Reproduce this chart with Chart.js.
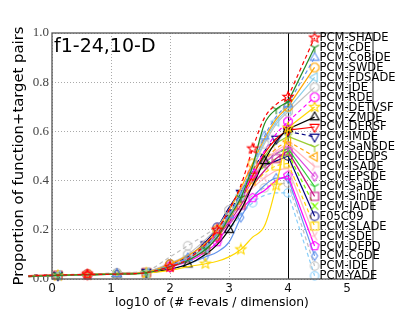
<!DOCTYPE html>
<html>
<head>
<meta charset="utf-8">
<script src="https://cdn.jsdelivr.net/npm/chart.js@4/dist/chart.umd.min.js"></script>
<style>
  html, body { margin: 0; padding: 0; background: #fff; }
</style>
</head>
<body>
<canvas id="chart" width="415" height="312"></canvas>
<script>
// log10(#f-evals / dim) where the ECDF curves are sampled
const xs = [-0.88, -0.4, 0.1, 0.6, 1.1, 1.6, 2.0, 2.3, 2.6, 2.8, 3.0, 3.2, 3.4, 3.6, 3.8, 4.0];

// proportion of function+target pairs, one array per algorithm
const shade  = [0.008, 0.012, 0.016, 0.018, 0.020, 0.026, 0.050, 0.080, 0.140, 0.200, 0.280, 0.380, 0.530, 0.655, 0.710, 0.740];
const cde    = [0.008, 0.011, 0.015, 0.018, 0.020, 0.025, 0.050, 0.075, 0.120, 0.170, 0.250, 0.330, 0.460, 0.630, 0.690, 0.720];
const cobide = [0.008, 0.011, 0.015, 0.018, 0.021, 0.027, 0.055, 0.085, 0.135, 0.185, 0.260, 0.350, 0.460, 0.580, 0.660, 0.710];
const swde   = [0.008, 0.012, 0.016, 0.019, 0.022, 0.028, 0.060, 0.095, 0.145, 0.200, 0.280, 0.370, 0.470, 0.570, 0.650, 0.700];
const fdsade = [0.008, 0.011, 0.015, 0.018, 0.021, 0.026, 0.050, 0.080, 0.125, 0.175, 0.250, 0.340, 0.450, 0.560, 0.640, 0.690];
const jde    = [0.008, 0.012, 0.016, 0.019, 0.023, 0.030, 0.065, 0.100, 0.160, 0.210, 0.280, 0.360, 0.450, 0.550, 0.630, 0.680];
const rde    = [0.008, 0.011, 0.015, 0.018, 0.021, 0.026, 0.050, 0.080, 0.120, 0.170, 0.250, 0.330, 0.430, 0.520, 0.590, 0.640];
const detvsf = [0.008, 0.010, 0.014, 0.017, 0.020, 0.024, 0.035, 0.050, 0.062, 0.072, 0.090, 0.120, 0.170, 0.215, 0.380, 0.615];
const zmde   = [0.008, 0.010, 0.014, 0.017, 0.020, 0.025, 0.040, 0.060, 0.100, 0.140, 0.200, 0.280, 0.380, 0.480, 0.560, 0.610];
const dersf  = [0.008, 0.014, 0.016, 0.018, 0.021, 0.026, 0.050, 0.080, 0.120, 0.170, 0.250, 0.330, 0.420, 0.510, 0.570, 0.605];
const imde   = [0.008, 0.011, 0.015, 0.018, 0.022, 0.028, 0.060, 0.090, 0.140, 0.200, 0.270, 0.350, 0.440, 0.520, 0.570, 0.600];
const sansde = [0.008, 0.011, 0.015, 0.018, 0.021, 0.026, 0.050, 0.080, 0.130, 0.180, 0.260, 0.340, 0.420, 0.500, 0.550, 0.580];
const dedps  = [0.008, 0.011, 0.015, 0.018, 0.021, 0.026, 0.050, 0.080, 0.120, 0.170, 0.240, 0.320, 0.400, 0.480, 0.530, 0.560];
const isade  = [0.008, 0.012, 0.016, 0.019, 0.022, 0.028, 0.060, 0.090, 0.140, 0.190, 0.260, 0.330, 0.410, 0.480, 0.520, 0.550];
const epsde  = [0.008, 0.011, 0.015, 0.018, 0.021, 0.026, 0.050, 0.080, 0.120, 0.170, 0.240, 0.320, 0.400, 0.470, 0.510, 0.540];
const sade   = [0.008, 0.011, 0.015, 0.018, 0.021, 0.026, 0.050, 0.080, 0.130, 0.180, 0.250, 0.330, 0.410, 0.470, 0.510, 0.530];
const sinde  = [0.008, 0.011, 0.015, 0.018, 0.021, 0.026, 0.050, 0.080, 0.120, 0.170, 0.230, 0.300, 0.380, 0.440, 0.490, 0.520];
const jade   = [0.008, 0.011, 0.015, 0.018, 0.021, 0.026, 0.050, 0.080, 0.130, 0.180, 0.250, 0.330, 0.400, 0.460, 0.490, 0.510];
const f05c09 = [0.008, 0.012, 0.016, 0.019, 0.022, 0.028, 0.060, 0.090, 0.150, 0.210, 0.290, 0.360, 0.420, 0.460, 0.480, 0.500];
const slade  = [0.008, 0.011, 0.015, 0.018, 0.021, 0.026, 0.050, 0.080, 0.120, 0.170, 0.240, 0.310, 0.380, 0.430, 0.460, 0.470];
const sde    = [0.008, 0.012, 0.016, 0.019, 0.022, 0.028, 0.060, 0.090, 0.140, 0.190, 0.260, 0.320, 0.370, 0.410, 0.440, 0.450];
const depd   = [0.008, 0.011, 0.015, 0.018, 0.021, 0.025, 0.050, 0.070, 0.110, 0.150, 0.220, 0.280, 0.330, 0.360, 0.400, 0.420];
const code   = [0.008, 0.010, 0.014, 0.017, 0.020, 0.024, 0.040, 0.060, 0.090, 0.110, 0.150, 0.250, 0.330, 0.380, 0.410, 0.410];
const ide    = [0.008, 0.012, 0.017, 0.020, 0.025, 0.034, 0.090, 0.135, 0.180, 0.210, 0.250, 0.300, 0.340, 0.370, 0.385, 0.390];
const yade   = [0.008, 0.011, 0.015, 0.018, 0.021, 0.026, 0.050, 0.080, 0.120, 0.170, 0.200, 0.260, 0.310, 0.340, 0.350, 0.350];

const labels = ['PCM-SHADE', 'PCM-cDE', 'PCM-CoBiDE', 'PCM-SWDE', 'PCM-FDSADE', 'PCM-jDE', 'PCM-RDE',
  'PCM-DETVSF', 'PCM-ZMDE', 'PCM-DERSF', 'PCM-IMDE', 'PCM-SaNSDE', 'PCM-DEDPS', 'PCM-ISADE', 'PCM-EPSDE',
  'PCM-SaDE', 'PCM-SinDE', 'PCM-JADE', 'F05C09', 'PCM-SLADE', 'PCM-SDE', 'PCM-DEPD', 'PCM-CoDE', 'PCM-IDE', 'PCM-YADE'];
const curves = [shade, cde, cobide, swde, fdsade, jde, rde, detvsf, zmde, dersf, imde, sansde, dedps, isade,
  epsde, sade, sinde, jade, f05c09, slade, sde, depd, code, ide, yade];

// where each line meets its legend entry (x and y in data units)
const legendX = 4.45;
const legendY = [0.981, 0.941, 0.900, 0.860, 0.820, 0.779, 0.739, 0.699, 0.658, 0.618, 0.578, 0.537, 0.497,
  0.457, 0.416, 0.376, 0.336, 0.296, 0.255, 0.215, 0.174, 0.134, 0.094, 0.053, 0.013];

const xTicks = [0, 1, 2, 3, 4, 5];
const yTicks = [0, 0.2, 0.4, 0.6, 0.8, 1.0];

// colour, marker, dashed
const looks = [
  ['#ff0000', 'star', true], ['#228b22', 'triY', false], ['#6495ed', 'triUp', true], ['#ffa500', 'octagon', false],
  ['#87ceeb', 'triLeft', false], ['#c0c0c0', 'octagon', false], ['#ff00ff', 'octagon', true], ['#ffd700', 'star', false],
  ['#000000', 'triUp', false], ['#ff0000', 'triDown', false], ['#000080', 'triDown', true], ['#9acd32', 'triY', false],
  ['#ffa500', 'triLeft', true], ['#ffb6c1', 'tri4', false], ['#dd44dd', 'thinDiamond', false], ['#32cd32', 'triY', false],
  ['#c71585', 'square', false], ['#7cfc00', 'cross', true], ['#000080', 'circle', false], ['#ffd700', 'square', true],
  ['#ffb6c1', 'tri3', false], ['#ff00ff', 'pentagon', false], ['#6495ed', 'thinDiamond', false], ['#c0c0c0', 'circle', true],
  ['#87cefa', 'circle', true]
];

function polygon(g, n, r, start) {
  for (let k = 0; k < n; k++) {
    const a = start + k * 2 * Math.PI / n;
    const px = r * Math.cos(a), py = r * Math.sin(a);
    if (k === 0) g.moveTo(px, py); else g.lineTo(px, py);
  }
  g.closePath();
}

function spokes(g, r, angles) {
  angles.forEach(a => {
    const rad = a * Math.PI / 180;
    g.moveTo(0, 0);
    g.lineTo(r * Math.cos(rad), r * Math.sin(rad));
  });
}

// hollow matplotlib-like markers
function makeMarker(shape, color) {
  const s = 14;
  const c = document.createElement('canvas');
  c.width = s; c.height = s;
  const g = c.getContext('2d');
  g.translate(s / 2, s / 2);
  g.strokeStyle = color;
  g.lineWidth = 1.1;
  g.beginPath();
  const r = 4.6;
  if (shape === 'star') {
    for (let k = 0; k < 10; k++) {
      const a = -Math.PI / 2 + k * Math.PI / 5;
      const rr = k % 2 === 0 ? 5.4 : 2.3;
      if (k === 0) g.moveTo(rr * Math.cos(a), rr * Math.sin(a)); else g.lineTo(rr * Math.cos(a), rr * Math.sin(a));
    }
    g.closePath();
  } else if (shape === 'triUp') polygon(g, 3, 5.2, -Math.PI / 2);
  else if (shape === 'triDown') polygon(g, 3, 5.2, Math.PI / 2);
  else if (shape === 'triLeft') polygon(g, 3, 5.2, Math.PI);
  else if (shape === 'octagon') polygon(g, 8, r, Math.PI / 8);
  else if (shape === 'pentagon') polygon(g, 5, r, -Math.PI / 2);
  else if (shape === 'circle') g.arc(0, 0, 4.2, 0, 2 * Math.PI);
  else if (shape === 'square') g.rect(-4, -4, 8, 8);
  else if (shape === 'thinDiamond') {
    g.moveTo(0, -r); g.lineTo(3, 0); g.lineTo(0, r); g.lineTo(-3, 0); g.closePath();
  } else if (shape === 'triY') spokes(g, 5, [90, 210, 330]);
  else if (shape === 'tri3') spokes(g, 5, [180, 60, 300]);
  else if (shape === 'tri4') spokes(g, 5, [0, 120, 240]);
  else if (shape === 'cross') spokes(g, 5, [45, 135, 225, 315]);
  g.stroke();
  return c;
}

const datasets = [];
curves.forEach((ys, i) => {
  const [color, shape, dashed] = looks[i];
  const mk = makeMarker(shape, color);
  const dash = dashed ? [4, 3] : [];
  datasets.push({
    data: xs.map((x, j) => ({ x: x, y: ys[j] })),
    borderColor: color,
    borderWidth: 1.2,
    borderDash: dash,
    cubicInterpolationMode: 'monotone',
    pointStyle: mk,
    pointRadius: xs.map((x, j) => (j === xs.length - 1 || (j >= 2 && (j + i) % 3 === 0)) ? 4 : 0),
    clip: false
  });
  // connector from the last value to the legend entry
  datasets.push({
    data: [{ x: xs[xs.length - 1], y: ys[ys.length - 1] }, { x: legendX, y: legendY[i] }],
    borderColor: color,
    borderWidth: 1.2,
    borderDash: dash,
    tension: 0,
    pointStyle: mk,
    pointRadius: [0, 4],
    clip: false
  });
});

const FONT = '"DejaVu Sans", "Liberation Sans", sans-serif';

const decor = {
  id: 'decor',
  beforeDatasetsDraw(chart) {
    const { ctx, chartArea: a, scales: { x } } = chart;
    ctx.save();
    ctx.strokeStyle = '#000';
    ctx.lineWidth = 1;
    const px = Math.round(x.getPixelForValue(4)) + 0.5;
    ctx.beginPath();
    ctx.moveTo(px, a.top);
    ctx.lineTo(px, a.bottom);
    ctx.stroke();
    ctx.restore();
  },
  afterDatasetsDraw(chart) {
    const { ctx, chartArea: a, scales: { x, y } } = chart;
    ctx.save();
    // frame
    ctx.strokeStyle = '#555';
    ctx.lineWidth = 1.3;
    ctx.strokeRect(a.left, a.top, a.right - a.left, a.bottom - a.top);
    // legend labels
    ctx.fillStyle = '#000';
    ctx.font = '11.5px ' + FONT;
    ctx.textAlign = 'left';
    ctx.textBaseline = 'middle';
    labels.forEach((t, i) => {
      ctx.fillText(t, x.getPixelForValue(legendX) + 5, y.getPixelForValue(legendY[i]) + 0.5);
    });
    // function/dimension tag
    ctx.font = '19px ' + FONT;
    ctx.textBaseline = 'alphabetic';
    ctx.fillText('f1-24,10-D', a.left + 2, 52);
    // axis titles
    ctx.font = '12.3px ' + FONT;
    ctx.textAlign = 'center';
    ctx.textBaseline = 'middle';
    ctx.fillText('log10 of (# f-evals / dimension)', 212, 303);
    ctx.translate(19, 156);
    ctx.rotate(-Math.PI / 2);
    ctx.font = '14.8px ' + FONT;
    ctx.fillText('Proportion of function+target pairs', 0, 0);
    ctx.restore();
  }
};

new Chart(document.getElementById('chart'), {
  type: 'line',
  data: { datasets: datasets },
  options: {
    responsive: false,
    animation: false,
    devicePixelRatio: 1,
    layout: { padding: { left: 0, right: 42, top: 33, bottom: 0 } },
    plugins: { legend: { display: false }, tooltip: { enabled: false } },
    scales: {
      x: {
        type: 'linear',
        min: 0,
        max: 5.44,
        afterBuildTicks: s => { s.ticks = xTicks.map(v => ({ value: v })); },
        afterFit: s => { s.height = 33; },
        grid: { color: '#aaa', lineWidth: 1, drawTicks: false },
        border: { display: false, dash: [1, 2] },
        ticks: { color: '#111', font: { family: FONT, size: 12 }, padding: 3, maxRotation: 0 }
      },
      y: {
        min: 0,
        max: 1,
        afterBuildTicks: s => { s.ticks = yTicks.map(v => ({ value: v })); },
        afterFit: s => { s.width = 52; },
        grid: { color: '#aaa', lineWidth: 1, drawTicks: false },
        border: { display: false, dash: [1, 2] },
        ticks: {
          color: '#444',
          font: { family: '"Liberation Serif", "DejaVu Serif", serif', size: 13 },
          padding: 3,
          callback: v => v.toFixed(1)
        }
      }
    }
  },
  plugins: [decor]
});
</script>
</body>
</html>
